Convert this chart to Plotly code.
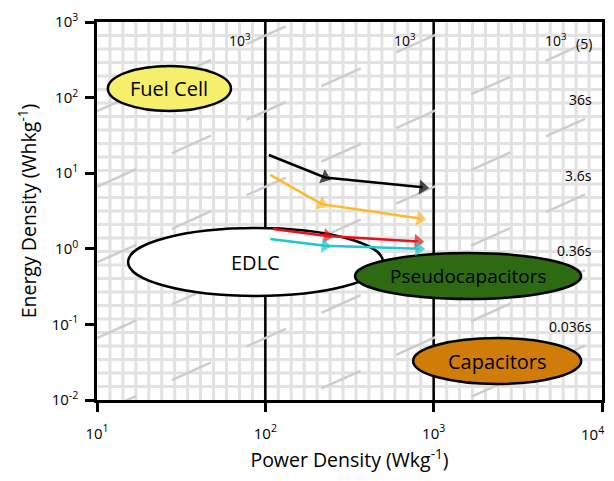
import numpy as np
import plotly.graph_objects as go

# ---------------- data ----------------
power_black = [105, 226, 860]
energy_black = [17.4, 8.8, 6.5]
power_yellow = [107, 216, 830]
energy_yellow = [9.5, 3.9, 2.52]
power_red = [111, 233, 805]
energy_red = [1.83, 1.48, 1.25]
power_cyan = [107, 226, 815]
energy_cyan = [1.35, 1.10, 1.0]

series_power = [power_black, power_yellow, power_red, power_cyan]
series_energy = [energy_black, energy_yellow, energy_red, energy_cyan]
series_colors = ["#000000", "#FDB92A", "#E8121C", "#1FC8CC"]

region_names = ["Fuel Cell", "EDLC", "Pseudocapacitors", "Capacitors"]
region_p_min = [11.6, 15.3, 341, 755]
region_p_max = [62.5, 500, 7520, 7520]
region_e_min = [66.5, 0.238, 0.217, 0.0163]
region_e_max = [262, 1.88, 0.88, 0.066]
region_fill = ["#F5EF6B", "#FFFFFF", "#2D6A12", "#D07C08"]
region_font_size = [20, 20, 19, 20]

# constant discharge-time guide lines (log10 of hours)
diag_log_t = [0.82, -0.18, -1.18, -2.18, -3.18, -4.18, -5.18]

time_labels = ["36s", "3.6s", "0.36s", "0.036s"]
time_label_energy = [100, 10, 1, 0.1]

decade_lines_power = [100, 1000]

x_tick_vals = [10, 100, 1000, 10000]
x_tick_text = ["10<sup>1</sup>", "10<sup>2</sup>", "10<sup>3</sup>", ""]
x_last_tick_text = "10<sup>4</sup>"
y_tick_vals = [0.01, 0.1, 1, 10, 100, 1000]
y_tick_text = ["10<sup>-2</sup>", "10<sup>-1</sup>", "10<sup>0</sup>",
               "10<sup>1</sup>", "10<sup>2</sup>", "10<sup>3</sup>"]

top_label_power = [71, 676]

FONT = "Open Sans"

fig = go.Figure()

# graph-paper background
n_cols, n_rows = 39, 28
for i in range(1, n_cols):
    fig.add_shape(type="line", xref="x domain", yref="y domain",
                  x0=i / n_cols, x1=i / n_cols, y0=0, y1=1,
                  line=dict(color="#E2E2E2", width=3), layer="below")
for j in range(1, n_rows):
    fig.add_shape(type="line", xref="x domain", yref="y domain",
                  x0=0, x1=1, y0=j / n_rows, y1=j / n_rows,
                  line=dict(color="#E2E2E2", width=3), layer="below")

# black decade lines
for p in decade_lines_power:
    fig.add_shape(type="line", xref="x", yref="y domain", x0=p, x1=p, y0=0, y1=1,
                  line=dict(color="black", width=2.5), layer="below")

# constant-time dashed diagonals
for lt in diag_log_t:
    fig.add_shape(type="line", xref="x", yref="y",
                  x0=10, x1=1e4, y0=10 ** (lt + 1), y1=10 ** (lt + 4),
                  line=dict(color="#CDCDCD", width=2.5, dash="43px,39px"), layer="below")

# region ellipses
for name, p0, p1, e0, e1, fc, fs in zip(region_names, region_p_min, region_p_max,
                                         region_e_min, region_e_max, region_fill,
                                         region_font_size):
    fig.add_shape(type="circle", xref="x", yref="y", x0=p0, x1=p1, y0=e0, y1=e1,
                  fillcolor=fc, line=dict(color="black", width=2.5), layer="below")
    fig.add_annotation(x=(np.log10(p0) + np.log10(p1)) / 2,
                       y=(np.log10(e0) + np.log10(e1)) / 2,
                       xref="x", yref="y", text=name, showarrow=False,
                       font=dict(family=FONT, size=fs, color="black"))

# arrow series
for px, ey, col in zip(series_power, series_energy, series_colors):
    fig.add_trace(go.Scatter(
        x=px, y=ey, mode="lines+markers",
        line=dict(color=col, width=2.5),
        marker=dict(symbol=["square", "triangle-up", "triangle-up"], size=[6, 13, 13],
                    angleref="previous", color=col, line=dict(width=0)),
        showlegend=False, hoverinfo="skip"))

# time labels on the right
for txt, e in zip(time_labels, time_label_energy):
    fig.add_annotation(x=4, y=np.log10(e), xref="x", yref="y", text=txt,
                       showarrow=False, xanchor="right", xshift=-8, yshift=-2,
                       font=dict(family=FONT, size=14, color="black"))
fig.add_annotation(x=4, y=2.76, xref="x", yref="y", text="(5)", showarrow=False,
                   xanchor="right", xshift=-8, yshift=-3,
                   font=dict(family=FONT, size=14, color="black"))
fig.add_annotation(x=4, y=2.76, xref="x", yref="y", text="10<sup>3</sup>", showarrow=False,
                   xanchor="right", xshift=-33,
                   font=dict(family=FONT, size=14, color="black"))
for p in top_label_power:
    fig.add_annotation(x=np.log10(p), y=2.76, xref="x", yref="y", text="10<sup>3</sup>",
                       showarrow=False, font=dict(family=FONT, size=14, color="black"))

# last x tick label, kept inside the page edge
fig.add_annotation(x=np.log10(x_tick_vals[-1]), y=0, xref="x", yref="y domain",
                   text=x_last_tick_text, showarrow=False, xanchor="right",
                   yanchor="middle", xshift=4, yshift=-33,
                   font=dict(family=FONT, size=15, color="black"))

axis_common = dict(type="log", showgrid=False, zeroline=False, showline=True,
                   linecolor="black", linewidth=2.5, mirror=True, automargin=False,
                   ticks="outside", ticklen=9, tickwidth=2.5, tickcolor="black",
                   ticklabeloverflow="allow",
                   tickfont=dict(family=FONT, size=15, color="black"))

# the page body adds an 8px margin on every side, so the figure is sized to fit the view
fig.update_layout(
    width=598, height=465,
    margin=dict(l=89, r=4, t=14, b=73),
    paper_bgcolor="white", plot_bgcolor="white",
    font=dict(family=FONT, color="black"),
    xaxis=dict(axis_common, range=[1, 4], tickvals=x_tick_vals, ticktext=x_tick_text,
               ticklabelstandoff=9,
               title=dict(text="Power Density (Wkg<sup>-1</sup>)",
                          font=dict(family=FONT, size=19.5), standoff=14)),
    yaxis=dict(axis_common, range=[-2, 3], tickvals=y_tick_vals, ticktext=y_tick_text,
               ticklabelstandoff=4,
               title=dict(text="Energy Density (Whkg<sup>-1</sup>)",
                          font=dict(family=FONT, size=19.5), standoff=10)),
)

fig.write_html("out.html")
